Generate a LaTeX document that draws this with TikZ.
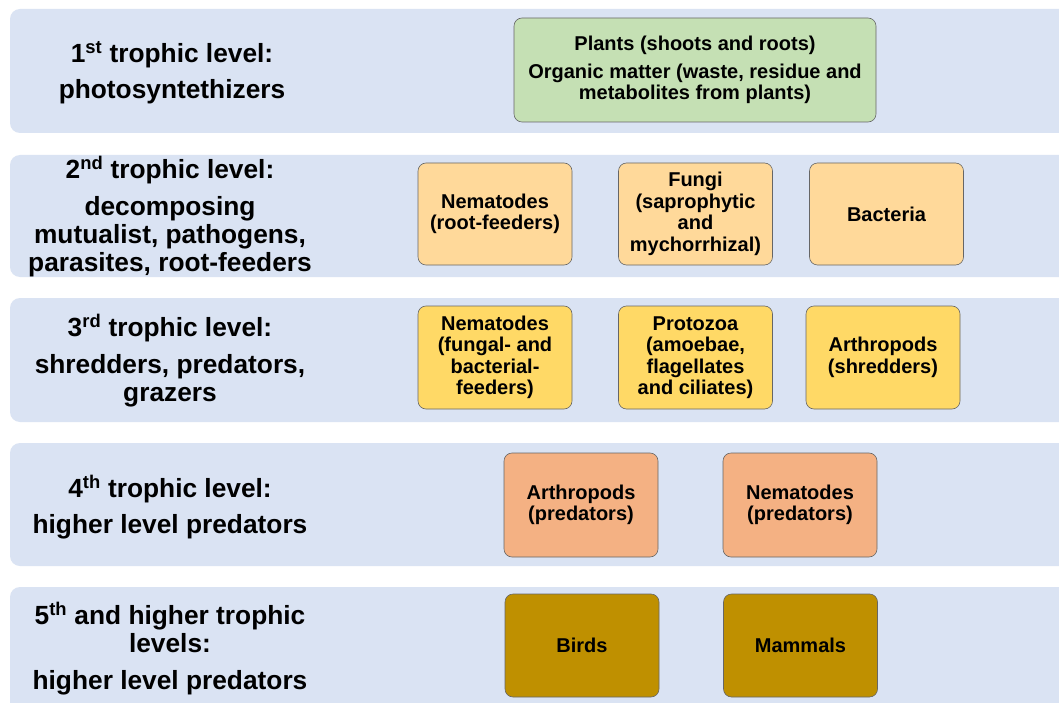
\documentclass[tikz,border=0pt]{standalone}
\usepackage{fontspec}
\setmainfont{Liberation Sans}

\begin{document}
\begin{tikzpicture}[x=1pt, y=-1pt, every node/.style={font=\bfseries}]
  \definecolor{fond}{HTML}{DAE3F3} \definecolor{coul1}{HTML}{C5E0B4} \definecolor{coul2}{HTML}{FFD99A}
  \definecolor{coul3}{HTML}{FFD966} \definecolor{coul4}{HTML}{F4B183} \definecolor{coul5}{HTML}{BF9000}
  \tikzstyle{level}=[align=center, font=\fontsize{26.3}{28}\selectfont\bfseries]
  \tikzstyle{box}=[draw=black!60, semithick, rounded corners=8pt, minimum width=154pt, minimum height=103pt,
    align=center, inner sep=2pt, font=\fontsize{20}{21.5}\selectfont\bfseries]
  \clip (0,0) rectangle (1059,703);
  \fill[white] (0,0) rectangle (1059,703);
  % bands
  \foreach \t/\b in {9/133, 155/277, 298/422, 443/566, 587/740}
    \fill[fond, rounded corners=10pt] (10,\t) rectangle (1090,\b);
  % level names
  \node[level] (lvl1) at (172,73) {1\textsuperscript{st} trophic level:\\[8pt] photosyntethizers};
  \node[level] (lvl2) at (170,217) {2\textsuperscript{nd} trophic level:\\[9pt] decomposing\\ mutualist, pathogens,\\ parasites, root-feeders};
  \node[level] (lvl3) at (170,361) {3\textsuperscript{rd} trophic level:\\[9pt] shredders, predators,\\ grazers};
  \node[level] (lvl4) at (170,507) {4\textsuperscript{th} trophic level:\\[8pt] higher level predators};
  \node[level] (lvl5) at (170,649) {5\textsuperscript{th} and higher trophic\\ levels:\\[9pt] higher level predators};
  % organisms
  \node[box, fill=coul1, minimum width=362pt, minimum height=104pt] (plants) at (695,70)
    {Plants (shoots and roots)\\[6pt] Organic matter (waste, residue and\\ metabolites from plants)};
  \foreach \n/\x/\txt in {nemroot/495/{Nematodes\\(root-feeders)}, fungi/695.5/{Fungi\\(saprophytic\\and\\mychorrhizal)}, bact/886.5/{Bacteria}}
    \node[box, fill=coul2, minimum height=102pt] (\n) at (\x,214) {\txt};
  \foreach \n/\x/\txt in {nemfb/495/{Nematodes\\(fungal- and\\bacterial-\\feeders)}, proto/695.5/{Protozoa\\(amoebae,\\flagellates\\and ciliates)}, arthshred/883/{Arthropods\\(shredders)}}
    \node[box, fill=coul3] (\n) at (\x,357.5) {\txt};
  \foreach \n/\x/\txt in {arthpred/581/{Arthropods\\(predators)}, nempred/800/{Nematodes\\(predators)}}
    \node[box, fill=coul4, minimum height=104pt] (\n) at (\x,505) {\txt};
  \foreach \n/\x/\txt in {birds/582/{Birds}, mammals/800.5/{Mammals}}
    \node[box, fill=coul5] (\n) at (\x,645.5) {\txt};
\end{tikzpicture}
\end{document}
